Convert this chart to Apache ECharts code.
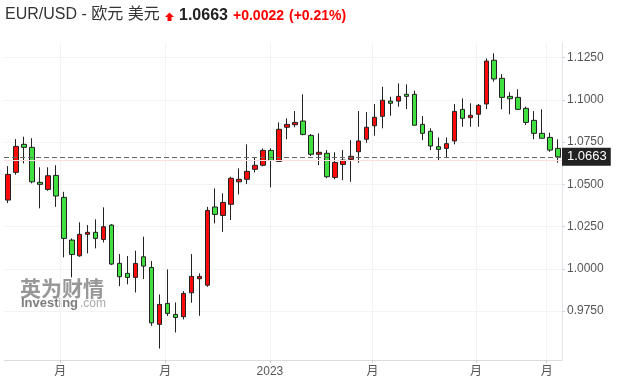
<!DOCTYPE html>
<html><head><meta charset="utf-8">
<script src="https://cdn.jsdelivr.net/npm/echarts@6/dist/echarts.min.js"></script>
<style>html,body{margin:0;padding:0;background:#fff}#c{width:628px;height:385px}</style>
</head><body><div id="c"></div>
<script>
const weeks = [
'2022-05-16','2022-05-23','2022-05-30','2022-06-06','2022-06-13','2022-06-20','2022-06-27','2022-07-04','2022-07-11','2022-07-18',
'2022-07-25','2022-08-01','2022-08-08','2022-08-15','2022-08-22','2022-08-29','2022-09-05','2022-09-12','2022-09-19','2022-09-26',
'2022-10-03','2022-10-10','2022-10-17','2022-10-24','2022-10-31','2022-11-07','2022-11-14','2022-11-21','2022-11-28','2022-12-05',
'2022-12-12','2022-12-19','2022-12-26','2023-01-02','2023-01-09','2023-01-16','2023-01-23','2023-01-30','2023-02-06','2023-02-13',
'2023-02-20','2023-02-27','2023-03-06','2023-03-13','2023-03-20','2023-03-27','2023-04-03','2023-04-10','2023-04-17','2023-04-24',
'2023-05-01','2023-05-08','2023-05-15','2023-05-22','2023-05-29','2023-06-05','2023-06-12','2023-06-19','2023-06-26','2023-07-03',
'2023-07-10','2023-07-17','2023-07-24','2023-07-31','2023-08-07','2023-08-14','2023-08-21','2023-08-28','2023-09-04','2023-09-11'];
const opens = [
1.0407,1.0571,1.0737,1.0719,1.0512,1.0470,1.0553,1.0423,1.0170,1.0077,
1.0204,1.0216,1.0174,1.0259,1.0032,0.9973,0.9949,1.0071,1.0008,0.9671,
0.9795,0.9730,0.9716,0.9858,0.9941,0.9903,1.0366,1.0316,1.0382,1.0515,
1.0530,1.0589,1.0613,1.0701,1.0636,1.0838,1.0853,1.0875,1.0790,1.0678,
1.0684,1.0541,1.0618,1.0648,1.0693,1.0767,1.0847,1.0903,1.0993,1.0993,
1.1033,1.1033,1.0855,1.0814,1.0723,1.0713,1.0757,1.0944,1.0895,1.0915,
1.0976,1.1235,1.1128,1.1021,1.1015,1.0950,1.0879,1.0802,1.0778,1.0713];
const closes = [
1.0559,1.0725,1.0719,1.0515,1.0500,1.0551,1.0431,1.0180,1.0085,1.0204,
1.0216,1.0180,1.0249,1.0028,0.9953,0.9949,1.0032,1.0016,0.9680,0.9789,
0.9736,0.9712,0.9854,0.9955,0.9955,1.0346,1.0322,1.0393,1.0536,1.0530,
1.0577,1.0613,1.0701,1.0642,1.0826,1.0855,1.0867,1.0796,1.0678,1.0690,
1.0545,1.0630,1.0644,1.0666,1.0757,1.0838,1.0897,1.0998,1.0980,1.1021,
1.1021,1.0850,1.0802,1.0727,1.0707,1.0741,1.0932,1.0891,1.0909,1.0968,
1.1230,1.1124,1.1015,1.1007,1.0944,1.0867,1.0802,1.0773,1.0703,1.0663];
const lows = [
1.0389,1.0557,1.0624,1.0506,1.0358,1.0462,1.0367,1.0068,0.9949,1.0071,
1.0091,1.0121,1.0156,1.0022,0.9897,0.9908,0.9860,0.9939,0.9662,0.9528,
0.9720,0.9623,0.9700,0.9799,0.9722,0.9893,1.0269,1.0219,1.0289,1.0441,
1.0502,1.0571,1.0607,1.0482,1.0636,1.0767,1.0838,1.0790,1.0668,1.0614,
1.0536,1.0530,1.0525,1.0515,1.0628,1.0746,1.0788,1.0832,1.0906,1.0960,
1.0946,1.0850,1.0762,1.0703,1.0638,1.0658,1.0737,1.0841,1.0841,1.0841,
1.0946,1.1108,1.0944,1.0915,1.0940,1.0851,1.0767,1.0773,1.0693,1.0628];
const highs = [
1.0608,1.0768,1.0782,1.0773,1.0601,1.0601,1.0613,1.0456,1.0180,1.0275,
1.0259,1.0293,1.0364,1.0265,1.0087,1.0076,1.0107,1.0190,1.0046,0.9848,
0.9996,0.9801,0.9868,1.0087,0.9973,1.0367,1.0476,1.0447,1.0545,1.0595,
1.0737,1.0660,1.0713,1.0713,1.0867,1.0891,1.0934,1.1033,1.0798,1.0802,
1.0703,1.0690,1.0703,1.0762,1.0934,1.0928,1.0976,1.1078,1.1019,1.1098,
1.1092,1.1055,1.0905,1.0832,1.0778,1.0778,1.0976,1.1009,1.0980,1.0976,
1.1246,1.1276,1.1153,1.1045,1.1063,1.0960,1.0934,1.0944,1.0806,1.0767];
const xTickDates = ['2022-07-01','2022-10-01','2023-01-01','2023-04-01','2023-07-01','2023-09-01'];
const xTickLabels = ['月','月','2023','月','月','月'];
const yTicks = [0.975, 1.000, 1.025, 1.050, 1.075, 1.100, 1.125];
const lastPrice = 1.0663;
const prevClose = 1.0641;
const changeText = '+0.0022';
const changePctText = '(+0.21%)';
const titleText = 'EUR/USD - 欧元 美元';

function ts(s){ const p = s.split('-').map(Number); return Date.UTC(p[0], p[1]-1, p[2]); }
const DAY = 86400000;
const weekTs = weeks.map(ts);
const xTickTs = xTickDates.map(ts);
const candles = weekTs.map((t,i)=>[t, opens[i], closes[i], lows[i], highs[i]]);
const FONT = "'Liberation Sans','Noto Sans CJK SC',sans-serif";

const chart = echarts.init(document.getElementById('c'), null, {renderer:'canvas'});
chart.setOption({
  animation:false,
  backgroundColor:'#fff',
  textStyle:{fontFamily:FONT},
  grid:{left:4, right:66, top:43, bottom:25, outerBoundsMode:'none', containLabel:false},
  xAxis:{
    type:'value',
    min: weekTs[0] - 3.5*DAY,
    max: weekTs[weekTs.length-1] + 3.5*DAY,
    axisLine:{show:true, lineStyle:{color:'#dcdcdc'}},
    axisTick:{show:true, length:3, customValues:xTickTs, lineStyle:{color:'#cfcfcf'}},
    axisLabel:{customValues:xTickTs, color:'#555', fontSize:12, margin:6, fontFamily:FONT,
      formatter:function(v){ let k=0,b=Infinity; xTickTs.forEach((t,i)=>{const d=Math.abs(t-v); if(d<b){b=d;k=i;}}); return xTickLabels[k]; }},
    splitLine:{show:true, lineStyle:{color:'#f3f3f3'}}
  },
  yAxis:{
    type:'value', position:'right', scale:true,
    min:0.946, max:1.1337,
    axisLine:{show:true, lineStyle:{color:'#e2e3ea'}},
    axisTick:{show:true, length:3, customValues:yTicks, lineStyle:{color:'#d6d7de'}},
    axisLabel:{customValues:yTicks, color:'#555', fontSize:12, margin:5, fontFamily:FONT, formatter:v=>v.toFixed(4)},
    splitLine:{show:true, lineStyle:{color:'#f3f3f3'}}
  },
  series:[{
    type:'candlestick',
    data:candles,
    encode:{x:0, y:[1,2,3,4]},
    barWidth:5,
    itemStyle:{color:'#ff0a0a', color0:'#3fe03f', borderColor:'#222', borderColor0:'#222', borderWidth:1},
    markLine:{
      silent:true, symbol:['none','none'], animation:false, precision:4,
      data:[
        {yAxis:prevClose, lineStyle:{color:'#fcdede', type:'solid', width:1}, label:{show:false}},
        {yAxis:lastPrice, lineStyle:{color:'#666', type:[5,3], width:1},
         label:{show:true, position:'end', distance:0, formatter:lastPrice.toFixed(4), color:'#fff',
                backgroundColor:'#222', padding:[3,4,2,5], fontSize:13, fontFamily:FONT}}
      ]
    }
  }],
  graphic:[
    {type:'text', x:5, y:15, style:{text:titleText, fill:'#333', font:"16px 'Liberation Sans','Noto Sans CJK SC',sans-serif", verticalAlign:'middle'}},
    {type:'polygon', shape:{points:[[165,17],[169.5,12.5],[174,17],[171.5,17],[171.5,21],[167.5,21],[167.5,17]]}, style:{fill:'#f00'}},
    {type:'text', x:179, y:16, style:{text:lastPrice.toFixed(4), fill:'#222', font:"bold 16px 'Liberation Sans',sans-serif", verticalAlign:'middle'}},
    {type:'text', x:233, y:16, style:{text:changeText, fill:'#f00', font:"bold 14px 'Liberation Sans',sans-serif", verticalAlign:'middle'}},
    {type:'text', x:289, y:16, style:{text:changePctText, fill:'#f00', font:"bold 14px 'Liberation Sans',sans-serif", verticalAlign:'middle'}},
    {type:'text', x:20, y:288, z:-1, style:{text:'英为财情', fill:'#858585', font:"bold 21px 'Noto Sans CJK SC',sans-serif", verticalAlign:'middle', opacity:0.85}},
    {type:'text', x:21, y:303, z:-1, style:{text:'Investing', fill:'#666', font:"bold 13px 'Liberation Sans',sans-serif", verticalAlign:'middle', opacity:0.85}},
    {type:'text', x:80, y:304, z:-1, style:{text:'.com', fill:'#999', font:"12px 'Liberation Sans',sans-serif", verticalAlign:'middle', opacity:0.85}}
  ]
});
</script></body></html>
